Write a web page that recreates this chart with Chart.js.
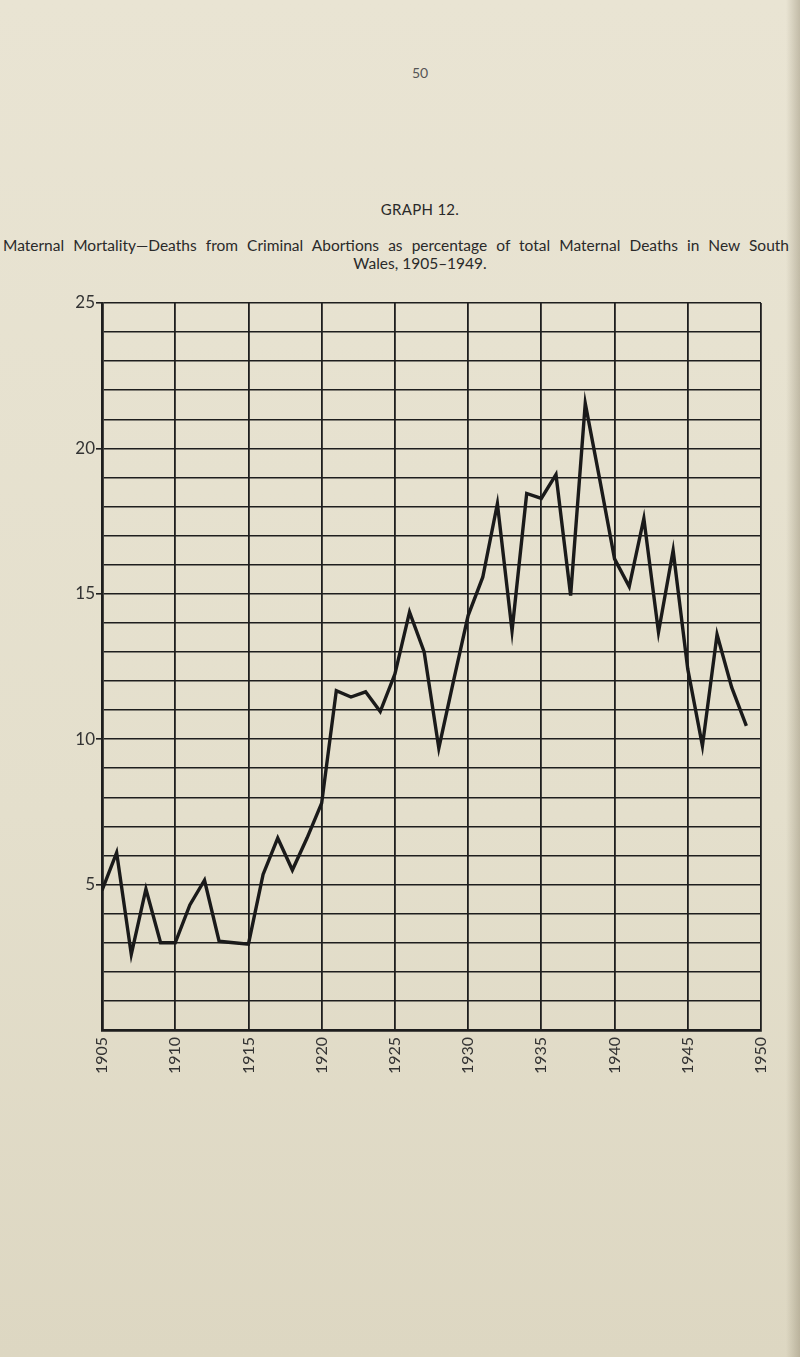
<!DOCTYPE html>
<html>
<head>
<meta charset="utf-8">
<script src="https://cdn.jsdelivr.net/npm/chart.js@4.4.1/dist/chart.umd.min.js"></script>
<style>
  html, body { margin: 0; padding: 0; }
  body {
    width: 800px; height: 1357px; position: relative; overflow: hidden;
    background: linear-gradient(to bottom, #e9e4d3 0%, #e4dfcc 60%, #ddd7c2 100%);
    font-family: Lato, "Open Sans", sans-serif; color: #2a2a2a;
  }
  .edge { position: absolute; right: 0; top: 0; width: 14px; height: 1357px;
    background: linear-gradient(to right, rgba(0,0,0,0) 0%, rgba(120,110,85,0.35) 100%); }
  .pageno { position: absolute; left: 0; width: 840px; top: 64px; text-align: center; font-size: 14px; color: #555; }
  .title { position: absolute; left: 0; width: 840px; top: 200px; text-align: center; font-size: 15px; letter-spacing: 0.3px; }
  .sub1 { position: absolute; left: 3px; width: 786px; top: 236px; font-size: 15.5px; text-align: justify; text-align-last: justify; white-space: nowrap; }
  .sub2 { position: absolute; left: 0; width: 840px; top: 254px; text-align: center; font-size: 15.5px; }
  #chart { position: absolute; left: 0; top: 0; }
</style>
</head>
<body>
<div class="edge"></div>
<div class="pageno">50</div>
<div class="title">GRAPH 12.</div>
<div class="sub1">Maternal Mortality—Deaths from Criminal Abortions as percentage of total Maternal Deaths in New South</div>
<div class="sub2">Wales, 1905–1949.</div>
<canvas id="chart" width="800" height="1357"></canvas>
<script>
// years and percentages
const years = [1905, 1906, 1907, 1908, 1909, 1910, 1911, 1912, 1913, 1914,
               1915, 1916, 1917, 1918, 1919, 1920, 1921, 1922, 1923, 1924,
               1925, 1926, 1927, 1928, 1929, 1930, 1931, 1932, 1933, 1934,
               1935, 1936, 1937, 1938, 1939, 1940, 1941, 1942, 1943, 1944,
               1945, 1946, 1947, 1948, 1949];
const percentAbortion = [4.8, 6.1, 2.6, 4.85, 3.0, 3.0, 4.3, 5.15, 3.05, 3.0,
                         2.95, 5.35, 6.6, 5.5, 6.6, 7.8, 11.67, 11.45, 11.63, 10.95,
                         12.24, 14.37, 13.0, 9.69, 12.0, 14.25, 15.57, 18.1, 13.73, 18.45,
                         18.28, 19.1, 14.94, 21.55, 18.9, 16.2, 15.25, 17.59, 13.68, 16.49,
                         12.41, 9.77, 13.6, 11.78, 10.46];
const xTicks = [1905, 1910, 1915, 1920, 1925, 1930, 1935, 1940, 1945, 1950];
const yLabels = [5, 10, 15, 20, 25];

const ink = '#1e1e1e';
const points = years.map((y, i) => ({ x: y, y: percentAbortion[i] }));

new Chart(document.getElementById('chart'), {
  type: 'line',
  data: {
    datasets: [{
      data: points,
      borderColor: '#1a1a1a',
      borderWidth: 3.4,
      pointRadius: 0,
      tension: 0,
      borderJoinStyle: 'miter'
    }]
  },
  options: {
    responsive: false,
    animation: false,
    layout: { padding: { left: 72, top: 303, right: 39, bottom: 267 } },
    plugins: { legend: { display: false }, tooltip: { enabled: false } },
    scales: {
      x: {
        type: 'linear', min: 1905, max: 1950,
        afterFit: s => { s.height = 60; },
        afterBuildTicks: s => { s.ticks = xTicks.map(v => ({ value: v })); },
        border: { color: ink, width: 2.8 },
        grid: { color: ink, lineWidth: 1.8, drawTicks: false },
        ticks: {
          minRotation: 90, maxRotation: 90, padding: 7,
          color: '#333', font: { family: 'Lato', size: 16 },
          callback: v => String(v)
        }
      },
      y: {
        min: 0, max: 25,
        afterFit: s => { s.width = 30; },
        border: { color: ink, width: 2.8 },
        grid: {
          color: ink, lineWidth: 1.6, tickLength: 6,
          tickColor: c => yLabels.includes(c.tick && c.tick.value) ? ink : 'rgba(0,0,0,0)'
        },
        ticks: {
          stepSize: 1, padding: 1,
          color: '#333', font: { family: 'Lato', size: 17 },
          callback: v => yLabels.includes(v) ? String(v) : ''
        }
      }
    }
  }
});
</script>
</body>
</html>
